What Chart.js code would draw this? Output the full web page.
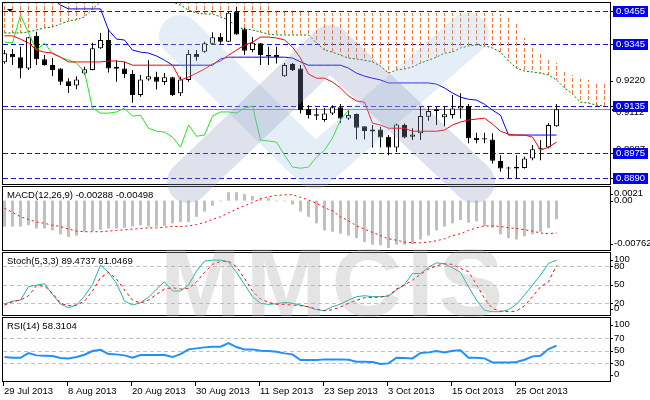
<!DOCTYPE html>
<html>
<head>
<meta charset="utf-8">
<script src="https://cdn.jsdelivr.net/npm/chart.js@4.4.0/dist/chart.umd.min.js"></script>
<style>
  html, body { margin: 0; padding: 0; background: #fff; }
  #wrap { position: relative; width: 650px; height: 400px; overflow: hidden; background: #fff; }
  canvas { position: absolute; left: 0; }
</style>
</head>
<body>
<div id="wrap">
  <canvas id="cMain" width="650" height="186" style="top:0px"></canvas>
  <canvas id="cMacd" width="650" height="66" style="top:186px"></canvas>
  <canvas id="cStoch" width="650" height="65" style="top:252px"></canvas>
  <canvas id="cRsi" width="650" height="83" style="top:317px"></canvas>
  <canvas id="cMark" width="650" height="400" style="top:0px;pointer-events:none"></canvas>
</div>
<script>
// daily bars, 29 Jul 2013 .. 1 Nov 2013
const dates = ['29 Jul 2013', '8 Aug 2013', '20 Aug 2013', '30 Aug 2013', '11 Sep 2013',
               '23 Sep 2013', '3 Oct 2013', '15 Oct 2013', '25 Oct 2013'];
const dateBars = [0, 8, 16, 24, 32, 40, 48, 56, 64];

const opens = [0.9282,0.9310,0.9299,0.9261,0.9371,0.9292,0.9273,0.9261,0.9218,0.9203,
  0.9244,0.9256,0.9329,0.9357,0.9267,0.9261,0.9242,0.9171,0.9224,0.9233,
  0.9215,0.9231,0.9177,0.9222,0.9310,0.9317,0.9344,0.9368,0.9351,0.9453,
  0.9393,0.9323,0.9346,0.9306,0.9306,0.9235,0.9276,0.9261,0.9124,0.9106,
  0.9087,0.9109,0.9130,0.9092,0.9107,0.9066,0.9048,0.9055,0.9030,0.8994,
  0.9070,0.9030,0.9042,0.9098,0.9123,0.9096,0.9104,0.9126,0.9134,0.9027,
  0.9025,0.9021,0.8948,0.8925,0.8929,0.8925,0.8957,0.8988,0.8994,0.9066];
const highs = [0.9323,0.9327,0.9334,0.9367,0.9385,0.9306,0.9296,0.9262,0.9228,0.9235,
  0.9267,0.9348,0.9381,0.9394,0.9289,0.9284,0.9256,0.9239,0.9289,0.9250,
  0.9246,0.9233,0.9233,0.9323,0.9323,0.9351,0.9383,0.9381,0.9455,0.9468,
  0.9398,0.9367,0.9347,0.9334,0.9334,0.9279,0.9279,0.9273,0.9137,0.9127,
  0.9127,0.9137,0.9141,0.9120,0.9109,0.9066,0.9070,0.9064,0.9036,0.9075,
  0.9075,0.9059,0.9132,0.9134,0.9132,0.9134,0.9171,0.9177,0.9141,0.9044,
  0.9044,0.9042,0.8968,0.8929,0.8968,0.8963,0.9002,0.9019,0.9077,0.9141];
const lows = [0.9277,0.9273,0.9228,0.9256,0.9273,0.9270,0.9235,0.9205,0.9178,0.9191,
  0.9239,0.9255,0.9327,0.9247,0.9216,0.9228,0.9145,0.9165,0.9219,0.9190,
  0.9205,0.9168,0.9168,0.9216,0.9287,0.9314,0.9340,0.9344,0.9350,0.9374,
  0.9306,0.9316,0.9273,0.9273,0.9278,0.9233,0.9252,0.9109,0.9092,0.9087,
  0.9081,0.9104,0.9077,0.9087,0.9021,0.9021,0.8994,0.8994,0.8968,0.8979,
  0.9025,0.9019,0.9019,0.9084,0.9070,0.9066,0.9092,0.9092,0.9008,0.9008,
  0.9008,0.8940,0.8912,0.8890,0.8890,0.8923,0.8951,0.8951,0.8991,0.9064];
const closes = [0.9312,0.9299,0.9261,0.9366,0.9292,0.9273,0.9256,0.9216,0.9202,0.9224,
  0.9258,0.9329,0.9357,0.9261,0.9260,0.9242,0.9171,0.9224,0.9235,0.9216,
  0.9231,0.9171,0.9224,0.9310,0.9299,0.9346,0.9366,0.9351,0.9449,0.9376,
  0.9321,0.9348,0.9306,0.9301,0.9299,0.9273,0.9256,0.9120,0.9104,0.9101,
  0.9109,0.9130,0.9092,0.9104,0.9061,0.9050,0.9055,0.9028,0.8994,0.9072,
  0.9028,0.9038,0.9100,0.9117,0.9117,0.9106,0.9126,0.9134,0.9025,0.9019,
  0.9021,0.8949,0.8923,0.8923,0.8923,0.8957,0.8988,0.8991,0.9070,0.9123];

// Ichimoku
const tenkan = [0.9371,0.9371,0.9360,0.9347,0.9323,0.9316,0.9313,0.9299,0.9283,0.9283,
  0.9283,0.9283,0.9283,0.9286,0.9286,0.9283,0.9272,0.9272,0.9272,0.9272,
  0.9272,0.9272,0.9222,0.9232,0.9245,0.9259,0.9276,0.9286,0.9306,0.9323,
  0.9340,0.9350,0.9367,0.9367,0.9364,0.9357,0.9333,0.9296,0.9242,0.9228,
  0.9228,0.9215,0.9195,0.9168,0.9151,0.9147,0.9076,0.9070,0.9059,0.9059,
  0.9059,0.9049,0.9049,0.9049,0.9049,0.9053,0.9070,0.9080,0.9087,0.9090,
  0.9093,0.9073,0.9049,0.9039,0.9036,0.9036,0.9029,0.8985,0.8995,0.9012];
const kijun = [0.9496,0.9496,0.9496,0.9496,0.9496,0.9496,0.9496,0.9475,0.9462,0.9462,
  0.9462,0.9462,0.9462,0.9391,0.9360,0.9357,0.9323,0.9316,0.9313,0.9303,
  0.9289,0.9272,0.9272,0.9272,0.9272,0.9272,0.9272,0.9293,0.9299,0.9299,
  0.9299,0.9299,0.9299,0.9299,0.9299,0.9299,0.9296,0.9283,0.9272,0.9272,
  0.9272,0.9272,0.9272,0.9262,0.9245,0.9235,0.9228,0.9222,0.9212,0.9212,
  0.9212,0.9212,0.9212,0.9212,0.9208,0.9195,0.9178,0.9164,0.9157,0.9154,
  0.9140,0.9120,0.9103,0.9036,0.9036,0.9036,0.9036,0.9036,0.9036,0.9036];
const chikou = [0.9350,0.9347,0.9441,0.9381,0.9323,0.9347,0.9310,0.9299,0.9289,0.9279,
  0.9249,0.9127,0.9110,0.9110,0.9114,0.9127,0.9100,0.9103,0.9059,0.9049,
  0.9046,0.9029,0.8995,0.9070,0.9032,0.9036,0.9100,0.9114,0.9114,0.9110,
  0.9127,0.9134,0.9019,0.9016,0.9012,0.8968,0.8928,0.8924,0.8928,0.8962,
  0.8985,0.9026,0.9087,0.9120];
const spanA = [0.9500,0.9500,0.9500,0.9500,0.9500,0.9500,0.9500,0.9500,0.9500,0.9500,
  0.9500,0.9500,0.9500,0.9500,0.9500,0.9500,0.9500,0.9500,0.9500,0.9500,
  0.9500,0.9500,0.9500,0.9500,0.9500,0.9500,0.9500,0.9500,0.9500,0.9500,
  0.9500,0.9500,0.9500,0.9500,0.9452,0.9452,0.9452,0.9452,0.9452,0.9448,
  0.9448,0.9448,0.9448,0.9448,0.9448,0.9448,0.9448,0.9448,0.9448,0.9448,
  0.9448,0.9448,0.9448,0.9448,0.9448,0.9448,0.9448,0.9448,0.9448,0.9448,
  0.9448,0.9448,0.9445,0.9431,0.9411,0.9364,0.9330,0.9310,0.9296,0.9279,
  0.9249,0.9239,0.9225,0.9222,0.9215,0.9212];
const spanB = [0.9381,0.9381,0.9381,0.9384,0.9391,0.9398,0.9401,0.9411,0.9421,0.9425,
  0.9435,0.9462,0.9485,0.9495,0.9495,0.9495,0.9495,0.9495,0.9495,0.9495,
  0.9495,0.9485,0.9475,0.9458,0.9448,0.9445,0.9445,0.9435,0.9425,0.9401,
  0.9394,0.9391,0.9384,0.9377,0.9374,0.9374,0.9374,0.9374,0.9374,0.9347,
  0.9323,0.9316,0.9306,0.9296,0.9293,0.9289,0.9283,0.9269,0.9245,0.9256,
  0.9259,0.9266,0.9279,0.9289,0.9299,0.9313,0.9316,0.9330,0.9337,0.9340,
  0.9337,0.9330,0.9316,0.9286,0.9262,0.9252,0.9249,0.9245,0.9239,0.9222,
  0.9195,0.9174,0.9147,0.9144,0.9137,0.9134];

const levels = [0.9455, 0.9345, 0.9135, 0.8975, 0.8890];
const priceTicks = [0.9220];
const hiddenTicks = [0.9333, 0.9112, 0.8987];

// MACD(12,26,9)
const macd = [-0.0040,-0.0040,-0.0040,-0.0038,-0.0043,-0.0043,-0.0046,-0.0052,-0.0056,-0.0054,
  -0.0048,-0.0047,-0.0045,-0.0043,-0.0043,-0.0042,-0.0040,-0.0038,-0.0040,-0.0040,
  -0.0039,-0.0035,-0.0033,-0.0033,-0.0025,-0.0017,-0.0008,-0.0001,0.0013,0.0013,
  0.0010,0.0007,0.0003,0.0004,-0.0001,-0.0001,-0.0006,-0.0017,-0.0025,-0.0035,
  -0.0046,-0.0048,-0.0051,-0.0054,-0.0058,-0.0064,-0.0068,-0.0069,-0.0073,-0.0068,
  -0.0068,-0.0067,-0.0060,-0.0054,-0.0046,-0.0040,-0.0035,-0.0030,-0.0034,-0.0032,
  -0.0039,-0.0042,-0.0052,-0.0058,-0.0060,-0.0055,-0.0052,-0.0048,-0.0042,-0.00288];
const macdSignal = [-0.0012,-0.0018,-0.0025,-0.0029,-0.0033,-0.0035,-0.0038,-0.0040,-0.0044,-0.0047,
  -0.0048,-0.0048,-0.0048,-0.0047,-0.0046,-0.0045,-0.0044,-0.0043,-0.0042,-0.0042,
  -0.0041,-0.0040,-0.0040,-0.0039,-0.0037,-0.0034,-0.0029,-0.0025,-0.0019,-0.0013,
  -0.0008,-0.0003,0.0003,0.0006,0.0008,0.0009,0.0009,0.0005,0.0001,-0.0004,
  -0.0011,-0.0016,-0.0025,-0.0031,-0.0039,-0.0044,-0.0049,-0.0054,-0.0059,-0.0061,
  -0.0064,-0.0065,-0.0065,-0.0064,-0.0062,-0.0059,-0.0054,-0.0051,-0.0046,-0.0042,
  -0.0039,-0.0039,-0.0040,-0.0042,-0.0043,-0.0045,-0.0047,-0.0050,-0.0051,-0.00498];
const macdTicks = [0.0021, 0, -0.00762];
const macdTickText = ['0.0021', '0.00', '-0.00762'];

// Stoch(5,3,3)
const stochMain = [18.7,23.6,25.2,46.6,49.3,51.5,34.4,18.7,12.9,17.2,
  31.6,50.2,81.5,69.7,52.0,23.6,17.2,21.0,29.6,43.0,
  54.7,39.8,39.8,49.3,71.8,87.9,89.5,89.5,86.8,69.7,
  50.2,30.6,20.0,18.3,19.4,21.5,20.0,17.2,14.0,9.7,
  8.3,14.5,18.7,25.2,30.6,32.2,30.6,30.6,31.6,41.3,
  50.2,67.9,67.9,78.1,85.1,83.5,77.0,69.7,46.6,25.2,
  8.6,6.5,6.5,9.7,18.3,33.3,49.3,65.4,84.1,89.47];
const stochSignal = [17.2,22.5,25.2,32.2,48.2,47.7,36.0,20.0,16.1,17.2,
  23.6,39.8,61.2,69.7,59.0,41.3,25.2,20.4,25.2,34.3,
  43.0,45.0,43.0,44.0,54.7,69.7,82.6,87.4,87.9,78.8,
  60.0,39.8,26.9,21.5,18.3,18.3,17.2,16.1,14.5,10.8,
  8.0,9.7,14.0,20.0,24.8,29.0,29.6,30.0,32.2,43.0,
  49.3,57.4,66.5,75.1,80.4,83.5,82.6,76.1,70.8,50.2,
  27.8,11.7,7.5,6.5,7.5,16.1,30.6,46.6,54.7,81.05];
const stochLevels = [80, 50, 20];
const stochTicks = [100, 80, 50, 20, 0];

// RSI(14)
const rsi = [40.0,38.9,38.9,46.4,42.7,42.1,41.6,38.4,37.9,40.0,
  43.7,49.6,51.7,44.8,44.3,42.7,38.9,43.2,43.2,43.2,
  43.2,40.0,44.8,52.3,53.9,55.5,56.5,56.5,62.4,56.0,
  52.3,52.3,50.1,49.6,48.5,45.9,44.3,35.2,35.2,35.2,
  36.3,36.3,36.3,35.7,32.5,32.5,32.0,28.8,29.9,38.9,
  38.4,37.9,46.5,47.5,49.6,47.5,50.1,50.7,38.9,38.9,
  37.9,31.5,31.5,31.5,32.0,35.7,41.1,42.1,52.8,58.31];
const rsiLevels = [70, 50, 30];
const rsiTicks = [100, 70, 50, 30, 0];

const FONT = '9.5px "Liberation Sans", Arial, sans-serif';
const X_MIN = -0.1875, X_MAX = 75.6875;

const pts = arr => arr.map((v, i) => ({ x: i, y: v }));

// dashed pattern for the cloud hatching
const pc = document.createElement('canvas');
pc.width = 1; pc.height = 6;
const pg = pc.getContext('2d');
pg.fillStyle = '#f47a3c';
pg.fillRect(0, 0, 1, 4);
const hatch = pg.createPattern(pc, 'repeat');

function baseOptions(pad, yMin, yMax) {
  return {
    responsive: false,
    animation: false,
    events: [],
    layout: { padding: pad },
    plugins: { legend: { display: false }, tooltip: { enabled: false } },
    scales: {
      x: { type: 'linear', min: X_MIN, max: X_MAX, offset: false, display: false },
      y: { type: 'linear', min: yMin, max: yMax, display: false }
    },
    elements: { point: { radius: 0 }, line: { tension: 0 } }
  };
}

function drawBorder(ctx, a) {
  ctx.strokeStyle = '#000';
  ctx.lineWidth = 1;
  ctx.setLineDash([]);
  ctx.strokeRect(a.left - 0.5, a.top - 0.5, a.right - a.left + 1, a.bottom - a.top + 1);
}

function rightTick(ctx, a, yy) {
  ctx.beginPath();
  ctx.moveTo(a.right + 0.5, Math.round(yy) + 0.5);
  ctx.lineTo(a.right + 3, Math.round(yy) + 0.5);
  ctx.stroke();
}

// ---------- main chart ----------
const mainDecor = {
  id: 'mainDecor',
  beforeDatasetsDraw(chart) {
    const { ctx, chartArea: a, scales: { y } } = chart;
    ctx.save();
    ctx.lineWidth = 1;
    const yc = Math.round(y.getPixelForValue(closes[closes.length - 1])) + 0.5;
    ctx.strokeStyle = '#8a8a8a';
    ctx.beginPath(); ctx.moveTo(a.left, yc); ctx.lineTo(a.right, yc); ctx.stroke();
    ctx.strokeStyle = '#1414d2';
    ctx.setLineDash([5, 3]);
    levels.forEach(v => {
      const yy = Math.round(y.getPixelForValue(v)) + 0.5;
      ctx.beginPath(); ctx.moveTo(a.left, yy); ctx.lineTo(a.right, yy); ctx.stroke();
    });
    ctx.restore();
  },
  afterDatasetsDraw(chart) {
    const { ctx, chartArea: a, scales: { y } } = chart;
    ctx.save();
    drawBorder(ctx, a);
    ctx.font = FONT;
    ctx.textBaseline = 'middle';
    // labels mostly covered by the level boxes
    ctx.fillStyle = '#000';
    ctx.textAlign = 'left';
    hiddenTicks.forEach(v => ctx.fillText(v.toFixed(4), 616, y.getPixelForValue(v)));
    ctx.fillRect(612, Math.round(y.getPixelForValue(closes[closes.length - 1])), 36, 2);
    priceTicks.forEach(v => {
      const yy = y.getPixelForValue(v);
      ctx.fillText(v.toFixed(4), 616, yy);
      rightTick(ctx, a, yy);
    });
    levels.forEach(v => {
      const yy = Math.round(y.getPixelForValue(v));
      ctx.fillStyle = '#0000f2';
      ctx.fillRect(613, yy - 5, 35, 11);
      ctx.fillStyle = '#fff';
      ctx.textAlign = 'center';
      ctx.fillText(v.toFixed(4), 630.5, yy + 0.5);
      rightTick(ctx, a, yy);
    });
    // chart shift marker
    ctx.fillStyle = '#000';
    ctx.beginPath(); ctx.moveTo(7, 9); ctx.lineTo(13, 9); ctx.lineTo(10, 12); ctx.closePath(); ctx.fill();
    ctx.restore();
  }
};

const mainOpts = baseOptions({ left: 3, right: 40, top: 3, bottom: 2 }, 0.88707, 0.94820);
new Chart(document.getElementById('cMain'), {
  type: 'line',
  data: {
    datasets: [
      { type: 'bar', order: 10, grouped: false, clip: 0, barThickness: 1, inflateAmount: 0,
        data: spanA.map((v, i) => ({ x: i, y: [Math.min(v, spanB[i]), Math.max(v, spanB[i])] })),
        backgroundColor: hatch, borderWidth: 0 },
      { type: 'line', order: 9, data: pts(spanB), borderColor: '#008000', borderWidth: 1,
        borderDash: [2, 2], pointRadius: 0, fill: false },
      { type: 'bar', order: 8, grouped: false, clip: 0, barThickness: 1, inflateAmount: 0,
        data: highs.map((h, i) => ({ x: i, y: [lows[i], h] })),
        backgroundColor: '#000', borderWidth: 0 },
      { type: 'bar', order: 7, grouped: false, clip: 0, barThickness: 5, inflateAmount: 0,
        minBarLength: 1,
        data: opens.map((o, i) => ({ x: i, y: [Math.min(o, closes[i]), Math.max(o, closes[i])] })),
        backgroundColor: closes.map((c, i) => c >= opens[i] ? '#fff' : '#000'),
        borderColor: '#000', borderWidth: 1, borderSkipped: false },
      { type: 'line', order: 3, data: pts(chikou), borderColor: '#1ee61e', borderWidth: 1,
        pointRadius: 0, fill: false },
      { type: 'line', order: 2, data: pts(kijun), borderColor: '#0000ff', borderWidth: 1,
        pointRadius: 0, fill: false },
      { type: 'line', order: 1, data: pts(tenkan), borderColor: '#ff0000', borderWidth: 1,
        pointRadius: 0, fill: false }
    ]
  },
  options: mainOpts,
  plugins: [mainDecor]
});

// ---------- sub panels ----------
function subDecor(title, dashLevels, tickVals, tickText, withDates) {
  return {
    id: 'subDecor',
    beforeDatasetsDraw(chart) {
      const { ctx, chartArea: a, scales: { y } } = chart;
      ctx.save();
      ctx.strokeStyle = '#c0c0c0';
      ctx.lineWidth = 1;
      ctx.setLineDash([4, 3]);
      dashLevels.forEach(v => {
        const yy = Math.round(y.getPixelForValue(v)) + 0.5;
        ctx.beginPath(); ctx.moveTo(a.left, yy); ctx.lineTo(a.right, yy); ctx.stroke();
      });
      ctx.restore();
    },
    afterDatasetsDraw(chart) {
      const { ctx, chartArea: a, scales: { x, y } } = chart;
      ctx.save();
      drawBorder(ctx, a);
      ctx.font = FONT;
      ctx.fillStyle = '#000';
      ctx.textBaseline = 'middle';
      ctx.textAlign = 'left';
      ctx.fillText(title, a.left + 4, a.top + 8.5);
      tickVals.forEach((v, k) => {
        let yy = y.getPixelForValue(v);
        yy = Math.min(Math.max(yy, a.top + 6.5), a.bottom - 6.5);
        ctx.fillText(tickText[k], a.right + 4, yy);
        rightTick(ctx, a, yy);
      });
      if (withDates) {
        dateBars.forEach((b, k) => {
          const tx = Math.floor(x.getPixelForValue(b)) - 1 + 0.5;
          ctx.beginPath(); ctx.moveTo(tx, a.bottom + 1); ctx.lineTo(tx, a.bottom + 5); ctx.stroke();
          ctx.fillText(dates[k], tx + 0.5, a.bottom + 10.5);
        });
      }
      ctx.restore();
    }
  };
}

new Chart(document.getElementById('cMacd'), {
  type: 'line',
  data: {
    datasets: [
      { type: 'bar', order: 2, grouped: false, clip: 0, barThickness: 3, inflateAmount: 0,
        data: pts(macd), backgroundColor: '#c0c0c0', borderWidth: 0 },
      { type: 'line', order: 1, data: pts(macdSignal), borderColor: '#ff0000', borderWidth: 1,
        borderDash: [2, 3], pointRadius: 0, fill: false }
    ]
  },
  options: baseOptions({ left: 3, right: 40, top: 1, bottom: 2 }, -0.00762, 0.0021),
  plugins: [subDecor('MACD(12,26,9) -0.00288 -0.00498', [], macdTicks, macdTickText, false)]
});

new Chart(document.getElementById('cStoch'), {
  type: 'line',
  data: {
    datasets: [
      { order: 2, data: pts(stochMain), borderColor: '#20b2aa', borderWidth: 1, pointRadius: 0, fill: false },
      { order: 1, data: pts(stochSignal), borderColor: '#ff0000', borderWidth: 1,
        borderDash: [3, 3], pointRadius: 0, fill: false }
    ]
  },
  options: baseOptions({ left: 3, right: 40, top: 1, bottom: 2 }, 1.2, 100.9),
  plugins: [subDecor('Stoch(5,3,3) 89.4737 81.0469', stochLevels, stochTicks,
    stochTicks.map(String), false)]
});

new Chart(document.getElementById('cRsi'), {
  type: 'line',
  data: {
    datasets: [
      { data: pts(rsi), borderColor: '#1e90ff', borderWidth: 2, pointRadius: 0, fill: false }
    ]
  },
  options: baseOptions({ left: 3, right: 40, top: 1, bottom: 19 }, 1.7, 102.5),
  plugins: [subDecor('RSI(14) 58.3104', rsiLevels, rsiTicks, rsiTicks.map(String), true)]
});

// ---------- watermark ----------
const wm = document.getElementById('cMark').getContext('2d');
wm.lineCap = 'round';
wm.lineJoin = 'round';
wm.lineWidth = 42;
wm.strokeStyle = 'rgba(160,190,225,0.28)';
wm.beginPath(); wm.moveTo(180, 36); wm.lineTo(315, 168); wm.lineTo(468, 34); wm.stroke();
wm.strokeStyle = 'rgba(140,150,185,0.28)';
wm.beginPath(); wm.moveTo(188, 182); wm.lineTo(330, 46); wm.lineTo(474, 182); wm.stroke();
wm.fillStyle = 'rgba(170,170,170,0.32)';
wm.font = 'bold 97px "Liberation Sans", Arial, sans-serif';
wm.letterSpacing = '5px';
wm.textBaseline = 'alphabetic';
wm.fillText('MMCIS', 160, 316);
</script>
</body>
</html>
